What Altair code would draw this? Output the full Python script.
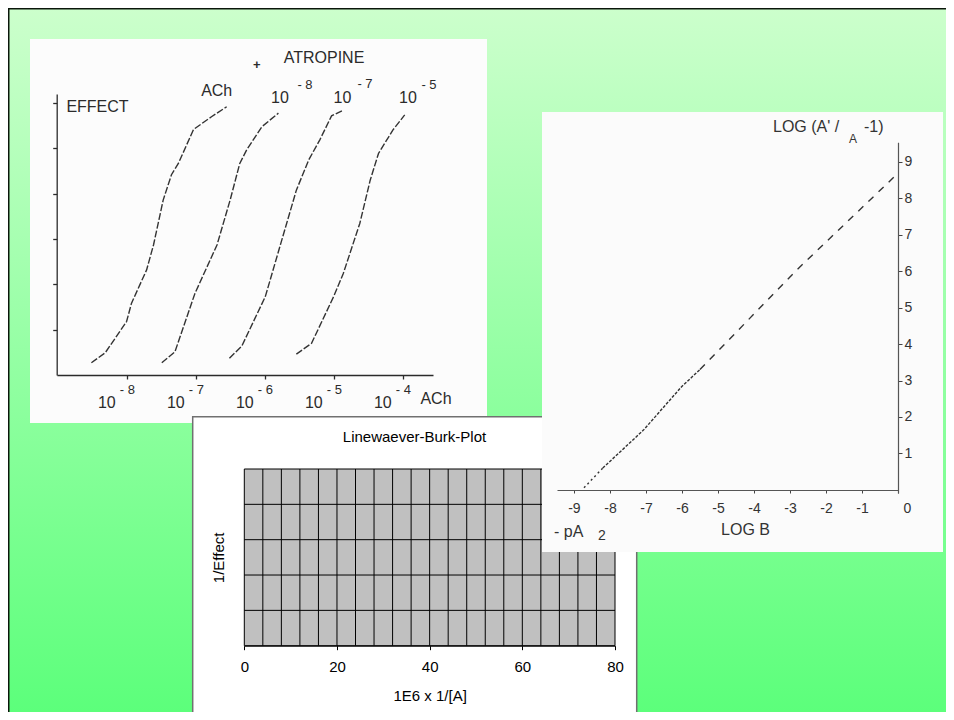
import altair as alt
import pandas as pd

W, H = 938, 704
FONT = "Liberation Sans"
INK = "#2b2b2b"

# ---------------- Panel 1: dose-response curves (x = log10 [ACh], y = effect) ----
ach_x = [-8.52, -8.32, -8.01, -7.94, -7.72, -7.62, -7.48, -7.36, -7.26, -7.04, -6.78, -6.56]
ach_y = [0.27, 0.49, 1.18, 1.58, 2.32, 2.87, 3.86, 4.42, 4.67, 5.42, 5.70, 5.92]
atr8_x = [-7.50, -7.31, -7.02, -6.70, -6.51, -6.37, -6.27, -6.05, -5.81]
atr8_y = [0.27, 0.51, 1.80, 2.87, 3.86, 4.67, 4.97, 5.48, 5.78]
atr7_x = [-6.52, -6.34, -6.00, -5.69, -5.55, -5.37, -5.21, -5.04, -4.89]
atr7_y = [0.37, 0.64, 1.73, 3.35, 4.08, 4.75, 5.19, 5.72, 5.83]
atr5_x = [-5.55, -5.33, -5.01, -4.87, -4.63, -4.48, -4.36, -4.15, -3.98]
atr5_y = [0.46, 0.70, 1.73, 2.24, 3.35, 4.30, 4.89, 5.41, 5.74]
p1_xticks = [-8, -7, -6, -5, -4]
p1_exp = ["- 8", "- 7", "- 6", "- 5", "- 4"]
p1_yticks = [1, 2, 3, 4, 5, 6]

# ---------------- Panel 2: Schild plot ----
schild_dot_x = [-8.72, -8.20]
schild_dot_y = [0.06, 0.60]
schild_solid_x = [-8.20, -7.07, -6.01, -5.50]
schild_solid_y = [0.60, 1.64, 2.83, 3.30]
schild_dash_x = [-5.50, -2.81, 0.0]
schild_dash_y = [3.30, 6.03, 8.68]
p2_xticks = [-9, -8, -7, -6, -5, -4, -3, -2, -1, 0]
p2_yticks = [1, 2, 3, 4, 5, 6, 7, 8, 9]

# ---------------- Panel 3: Lineweaver-Burk frame ----
lb_xgrid = [0, 4, 8, 12, 16, 20, 24, 28, 32, 36, 40, 44, 48, 52, 56, 60, 64, 68, 72, 76, 80]
lb_ygrid = [0, 1, 2, 3, 4, 5]
lb_xticks = [0, 20, 40, 60, 80]
lb_xmin, lb_xmax, lb_ymin, lb_ymax = 0, 80, 0, 5

one = pd.DataFrame({"k": [0]})


def sc(domain, rng):
    return alt.Scale(domain=domain, range=rng, nice=False, zero=False)


P1X = ([-9.02, -3.57], [48.9, 425.0])
P1Y = ([0, 6.2], [367.0, 86.1])
P2X = ([-9.47, 0], [549.0, 890.0])
P2Y = ([-0.08, 9.53], [484.9, 134.2])
P3X = ([0, 80], [236.3, 607.0])
P3Y = ([0, 5], [637.7, 461.0])

layers = []

# background gradient + slide border
grad = {"gradient": "linear", "x1": 0, "x2": 0, "y1": 0, "y2": 1,
        "stops": [{"offset": 0, "color": "#ccffcc"}, {"offset": 1, "color": "#5cff7b"}]}
layers.append(alt.Chart(one).mark_rect(fill=grad).encode(
    x=alt.value(0), x2=alt.value(W), y=alt.value(0), y2=alt.value(H)))
layers.append(alt.Chart(one).mark_rule(color="#0b160b", strokeWidth=3).encode(
    x=alt.value(0), y=alt.value(0), y2=alt.value(H)))
layers.append(alt.Chart(one).mark_rule(color="#0b160b", strokeWidth=3).encode(
    x=alt.value(0), x2=alt.value(W), y=alt.value(0)))

# ---------------- Panel 1 ----------------
layers.append(alt.Chart(one).mark_rect(fill="#fcfcfc").encode(
    x=alt.value(22), x2=alt.value(479), y=alt.value(31), y2=alt.value(415)))

curves = [(ach_x, ach_y), (atr8_x, atr8_y), (atr7_x, atr7_y), (atr5_x, atr5_y)]
for i, (cx, cy) in enumerate(curves):
    df = pd.DataFrame({"x": cx, "y": cy})
    if i == 0:
        xa = alt.Axis(orient="bottom", offset=367 - H, values=p1_xticks, tickSize=4,
                      tickColor=INK, tickWidth=1.3, domainColor=INK, domainWidth=1.3,
                      labelExpr="'10'", labelFont=FONT, labelFontSize=16, labelColor=INK,
                      labelPadding=15, labelOffset=-21, labelFlush=False, labelOverlap=False,
                      title=None, grid=False, zindex=1)
        ya = alt.Axis(orient="left", offset=-48.7, values=p1_yticks, tickSize=4,
                      tickColor=INK, tickWidth=1.3, domainColor=INK, domainWidth=1.3,
                      labels=False, title=None, grid=False, zindex=1)
    else:
        xa = None
        ya = None
    layers.append(alt.Chart(df).mark_line(color="#333333", strokeWidth=1.4,
                                          strokeDash=[7, 2]).encode(
        x=alt.X("x:Q", scale=sc(*P1X), axis=xa),
        y=alt.Y("y:Q", scale=sc(*P1Y), axis=ya),
        order="x:Q"))

# superscripts of the x tick labels
layers.append(alt.Chart(pd.DataFrame({"x": p1_xticks, "t": p1_exp})).mark_text(
    font=FONT, fontSize=13, color=INK, align="center", baseline="middle").encode(
    x=alt.X("x:Q", scale=sc(*P1X), axis=None), y=alt.value(382), text="t:N"))


def txt(s, x, y, size=15, color=INK, align="center", weight="normal"):
    return alt.Chart(pd.DataFrame({"t": [s]})).mark_text(
        font=FONT, fontSize=size, color=color, align=align,
        baseline="middle", fontWeight=weight).encode(
        x=alt.value(x), y=alt.value(y), text="t:N")


layers += [
    txt("EFFECT", 89.5, 99, 16),
    txt("+", 248.7, 57, 13, weight="bold"),
    txt("ATROPINE", 316, 50, 16),
    txt("ACh", 208.7, 83, 16),
    txt("10", 272, 90, 16), txt("- 8", 297, 77, 13),
    txt("10", 334.5, 90, 16), txt("- 7", 357, 76, 13),
    txt("10", 400, 90, 16), txt("- 5", 421, 77, 13),
    txt("ACh", 428, 391, 16),
]

# ---------------- Panel 3 ----------------
layers.append(alt.Chart(one).mark_rect(fill="white", stroke="#707070", strokeWidth=1.5).encode(
    x=alt.value(184.7), x2=alt.value(628.7), y=alt.value(408.7), y2=alt.value(H + 20)))

area = pd.DataFrame({"x0": [lb_xmin], "x1": [lb_xmax], "y0": [lb_ymin], "y1": [lb_ymax]})
layers.append(alt.Chart(area).mark_rect(fill="#c0c0c0").encode(
    x=alt.X("x0:Q", scale=sc(*P3X),
            axis=alt.Axis(orient="bottom", offset=637.7 - H, values=lb_xticks, tickSize=4,
                          tickColor="black", domainColor="black", labelFont=FONT,
                          labelFontSize=15, labelColor="black", labelPadding=10,
                          labelFlush=False, title="1E6 x 1/[A]", titleFont=FONT,
                          titleFontSize=15, titleFontWeight="normal", titleColor="black",
                          titlePadding=14, grid=False, zindex=1)),
    x2="x1:Q",
    y=alt.Y("y0:Q", scale=sc(*P3Y),
            axis=alt.Axis(orient="left", offset=-236.3, labels=False, ticks=False,
                          domain=False, title="1/Effect", titleFont=FONT, titleFontSize=15,
                          titleFontWeight="normal", titleColor="black", titlePadding=18,
                          minExtent=0, maxExtent=0, grid=False, zindex=1)),
    y2="y1:Q"))

vg = pd.DataFrame({"x": lb_xgrid})
vg["y0"] = lb_ymin
vg["y1"] = lb_ymax
layers.append(alt.Chart(vg).mark_rule(color="black", strokeWidth=1).encode(
    x=alt.X("x:Q", scale=sc(*P3X), axis=None),
    y=alt.Y("y0:Q", scale=sc(*P3Y), axis=None), y2="y1:Q"))
hg = pd.DataFrame({"y": lb_ygrid})
hg["x0"] = lb_xmin
hg["x1"] = lb_xmax
layers.append(alt.Chart(hg).mark_rule(color="black", strokeWidth=1).encode(
    y=alt.Y("y:Q", scale=sc(*P3Y), axis=None),
    x=alt.X("x0:Q", scale=sc(*P3X), axis=None), x2="x1:Q"))
layers.append(txt("Linewaever-Burk-Plot", 406.5, 428.8, 15, color="black"))

# ---------------- Panel 2 ----------------
layers.append(alt.Chart(one).mark_rect(fill="#fbfbfb").encode(
    x=alt.value(534), x2=alt.value(935), y=alt.value(104), y2=alt.value(544)))

segs = [(schild_dot_x, schild_dot_y, [2, 3]),
        (schild_solid_x, schild_solid_y, [3, 1.5]),
        (schild_dash_x, schild_dash_y, [7, 7])]
for i, (sx, sy, dash) in enumerate(segs):
    df = pd.DataFrame({"x": sx, "y": sy})
    if i == 0:
        xa = alt.Axis(orient="bottom", offset=482 - H, values=p2_xticks, tickSize=3,
                      tickColor="#444444", domainColor="#555555", domainWidth=1.2,
                      labelExpr="datum.value == 0 ? '0' : '-' + abs(datum.value)",
                      labelOffset={"condition": {"test": "datum.value == 0", "value": 9},
                                   "value": 0},
                      labelFont=FONT, labelFontSize=14, labelColor="#333333",
                      labelPadding=8, labelFlush=False, labelOverlap=False,
                      title=None, grid=False, zindex=1)
        ya = alt.Axis(orient="right", offset=890 - W, values=p2_yticks, tickSize=4,
                      tickColor="#444444", domainColor="#555555", domainWidth=1.2,
                      labelFont=FONT, labelFontSize=14, labelColor="#333333",
                      labelPadding=2, labelFlush=False, labelOverlap=False,
                      title=None, grid=False, zindex=1)
    else:
        xa = None
        ya = None
    layers.append(alt.Chart(df).mark_line(color="#333333", strokeWidth=1.4,
                                          strokeDash=dash).encode(
        x=alt.X("x:Q", scale=sc(*P2X), axis=xa),
        y=alt.Y("y:Q", scale=sc(*P2Y), axis=ya),
        order="x:Q"))

layers += [
    txt("LOG (A' /", 765, 119, 16, color="#333333", align="left"),
    txt("A", 845, 131, 12, color="#333333"),
    txt("-1)", 856, 119, 16, color="#333333", align="left"),
    txt("LOG  B", 737.5, 522, 16, color="#333333"),
    txt("-  pA", 546, 524, 16, color="#333333", align="left"),
    txt("2", 590, 528, 14, color="#333333", align="left"),
]

chart = alt.layer(*layers).resolve_scale(
    x="independent", y="independent"
).properties(
    width=W, height=H, padding=0, autosize=alt.AutoSizeParams(type="none")
).configure_view(stroke="transparent", strokeWidth=0)

chart.save("out.html", embed_options={"renderer": "svg", "actions": False})
